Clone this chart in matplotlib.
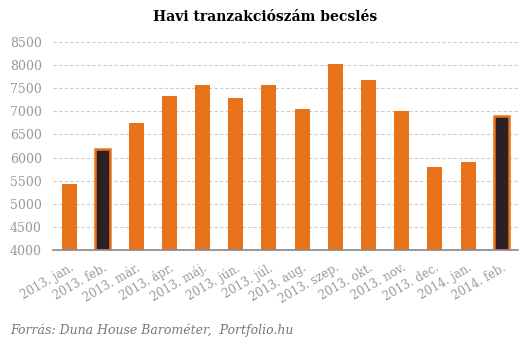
import numpy as np
import matplotlib.pyplot as plt

# adatok
honapok = ['2013. jan.', '2013. feb.', '2013. már.', '2013. ápr.', '2013. máj.',
           '2013. jún.', '2013. júl.', '2013. aug.', '2013. szep.', '2013. okt.',
           '2013. nov.', '2013. dec.', '2014. jan.', '2014. feb.']
ertekek = [5420, 6190, 6740, 7340, 7560, 7290, 7560, 7060, 8030, 7670,
           7000, 5790, 5900, 6900]
kiemelt = [1, 13]
yticks = [4000, 4500, 5000, 5500, 6000, 6500, 7000, 7500, 8000, 8500]

narancs = '#e8731a'
sotet = '#2e1f24'
szurke = '#999999'

plt.rcParams['font.family'] = ['DejaVu Serif']

fig = plt.figure(figsize=(5.31, 3.42), dpi=100)
ax = fig.add_axes([53 / 531, 1 - 250 / 342, 465 / 531, 208 / 342])

x = np.arange(len(honapok))
szinek = [sotet if i in kiemelt else narancs for i in x]
vonal = [1.8 if i in kiemelt else 0 for i in x]
ax.bar(x, [v - 4000 for v in ertekek], bottom=4000, width=0.45,
       color=szinek, edgecolor=narancs, linewidth=vonal, zorder=3)

ax.set_xlim(-0.5, len(honapok) - 0.5)
ax.set_ylim(4000, 8500)
ax.set_yticks(yticks)
ax.set_yticklabels([str(t) for t in yticks], color=szurke, fontsize=9)
ax.yaxis.grid(True, color='#cccccc', linestyle=(0, (3, 2)), linewidth=0.8, zorder=0)
ax.tick_params(axis='both', length=0, pad=8)

ax.set_xticks(x)
ax.set_xticklabels(honapok, rotation=30, ha='right', rotation_mode='anchor',
                   color=szurke, fontsize=8.5)

for s in ['top', 'right', 'left']:
    ax.spines[s].set_visible(False)
ax.spines['bottom'].set_color('#888888')
ax.spines['bottom'].set_linewidth(1.2)
ax.spines['bottom'].set_zorder(4)

fig.text(0.5, 1 - 17 / 342, 'Havi tranzakciószám becslés', ha='center', va='center',
         fontsize=10, fontweight='bold', color='black')
fig.text(10 / 531, 1 - 330 / 342, 'Forrás: Duna House Barométer,  Portfolio.hu',
         ha='left', va='center', fontsize=9, style='italic', color='#777777')

plt.savefig('out.png', dpi=100)
